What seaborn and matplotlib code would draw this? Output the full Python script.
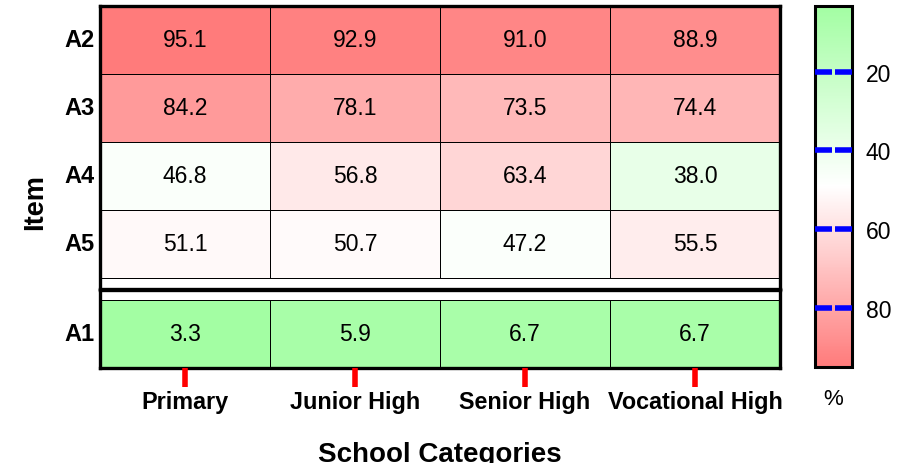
import matplotlib
matplotlib.use("Agg")
import matplotlib.pyplot as plt
import numpy as np
import pandas as pd
import seaborn as sns
from matplotlib.colors import LinearSegmentedColormap

# data
CATEGORIES = ["Primary", "Junior High", "Senior High", "Vocational High"]
TOP_ITEMS = ["A2", "A3", "A4", "A5"]
BOTTOM_ITEMS = ["A1"]
A2 = [95.1, 92.9, 91.0, 88.9]
A3 = [84.2, 78.1, 73.5, 74.4]
A4 = [46.8, 56.8, 63.4, 38.0]
A5 = [51.1, 50.7, 47.2, 55.5]
A1 = [3.3, 5.9, 6.7, 6.7]
CBAR_TICKS = [20, 40, 60, 80]

VMIN, VMAX = 3.3, 95.1
CMAP = LinearSegmentedColormap.from_list("gwr", ["#a3fea3", "#ffffff", "#ff7b7b"])

sns.set_theme(style="ticks", rc={"text.color": "black", "axes.labelcolor": "black",
                                 "xtick.color": "black", "ytick.color": "black",
                                 "axes.axisbelow": False})
plt.rcParams["font.family"] = ["Liberation Sans", "DejaVu Sans"]

top = pd.DataFrame([A2, A3, A4, A5], index=TOP_ITEMS, columns=CATEGORIES)
bottom = pd.DataFrame([A1], index=BOTTOM_ITEMS, columns=CATEGORIES)

fig = plt.figure(figsize=(9.11, 4.64), dpi=100)
W, H = 911, 464


def box(x0, y0, x1, y1):
    return [x0 / W, 1 - y1 / H, (x1 - x0) / W, (y1 - y0) / H]


ax_top = fig.add_axes(box(100, 7, 780, 290))
ax_bot = fig.add_axes(box(100, 291, 780, 369))
cax = fig.add_axes(box(815, 7, 852, 368))

common = dict(cmap=CMAP, vmin=VMIN, vmax=VMAX, annot=True, fmt=".1f",
              linewidths=0.7, linecolor="black",
              annot_kws={"fontsize": 16.5, "color": "black"})

sns.heatmap(top, ax=ax_top, cbar_ax=cax, **common)
sns.heatmap(bottom, ax=ax_bot, cbar=False, **common)

ax_top.set_ylim(4 + 11 / 68, 0)
ax_bot.set_ylim(1, -0.14)

for ax in (ax_top, ax_bot):
    for sp in ax.spines.values():
        sp.set_visible(True)
        sp.set_linewidth(2.4)
        sp.set_color("black")
    ax.set_yticklabels(ax.get_yticklabels(), rotation=0, fontsize=17, fontweight="bold")
    ax.tick_params(axis="y", length=0, pad=4)
    ax.set_ylabel("")
    ax.set_xlabel("")

ax_top.set_xticks([])
ax_bot.set_xticklabels(CATEGORIES, fontsize=16.8, fontweight="bold", rotation=0)
ax_bot.tick_params(axis="x", bottom=True, direction="out",
                   length=14, width=4, color="red", pad=2)

ax_bot.set_xlabel("School Categories", fontsize=20, fontweight="bold", labelpad=20)
fig.text(35 / W, 1 - 202 / H, "Item", fontsize=19.5, fontweight="bold",
         rotation=90, ha="center", va="center")

# colorbar
cbar = ax_top.collections[0].colorbar
cbar.outline.set_linewidth(2.2)
cbar.outline.set_edgecolor("black")
cax.invert_yaxis()
cax.set_yticks(CBAR_TICKS)
cax.tick_params(axis="y", direction="in", left=True, right=True,
                length=12, width=4, color="blue", labelsize=16.5, pad=10)
fig.text(833 / W, 1 - 400 / H, "%", fontsize=16, ha="center", va="center")

fig.savefig("out.png", dpi=100)
